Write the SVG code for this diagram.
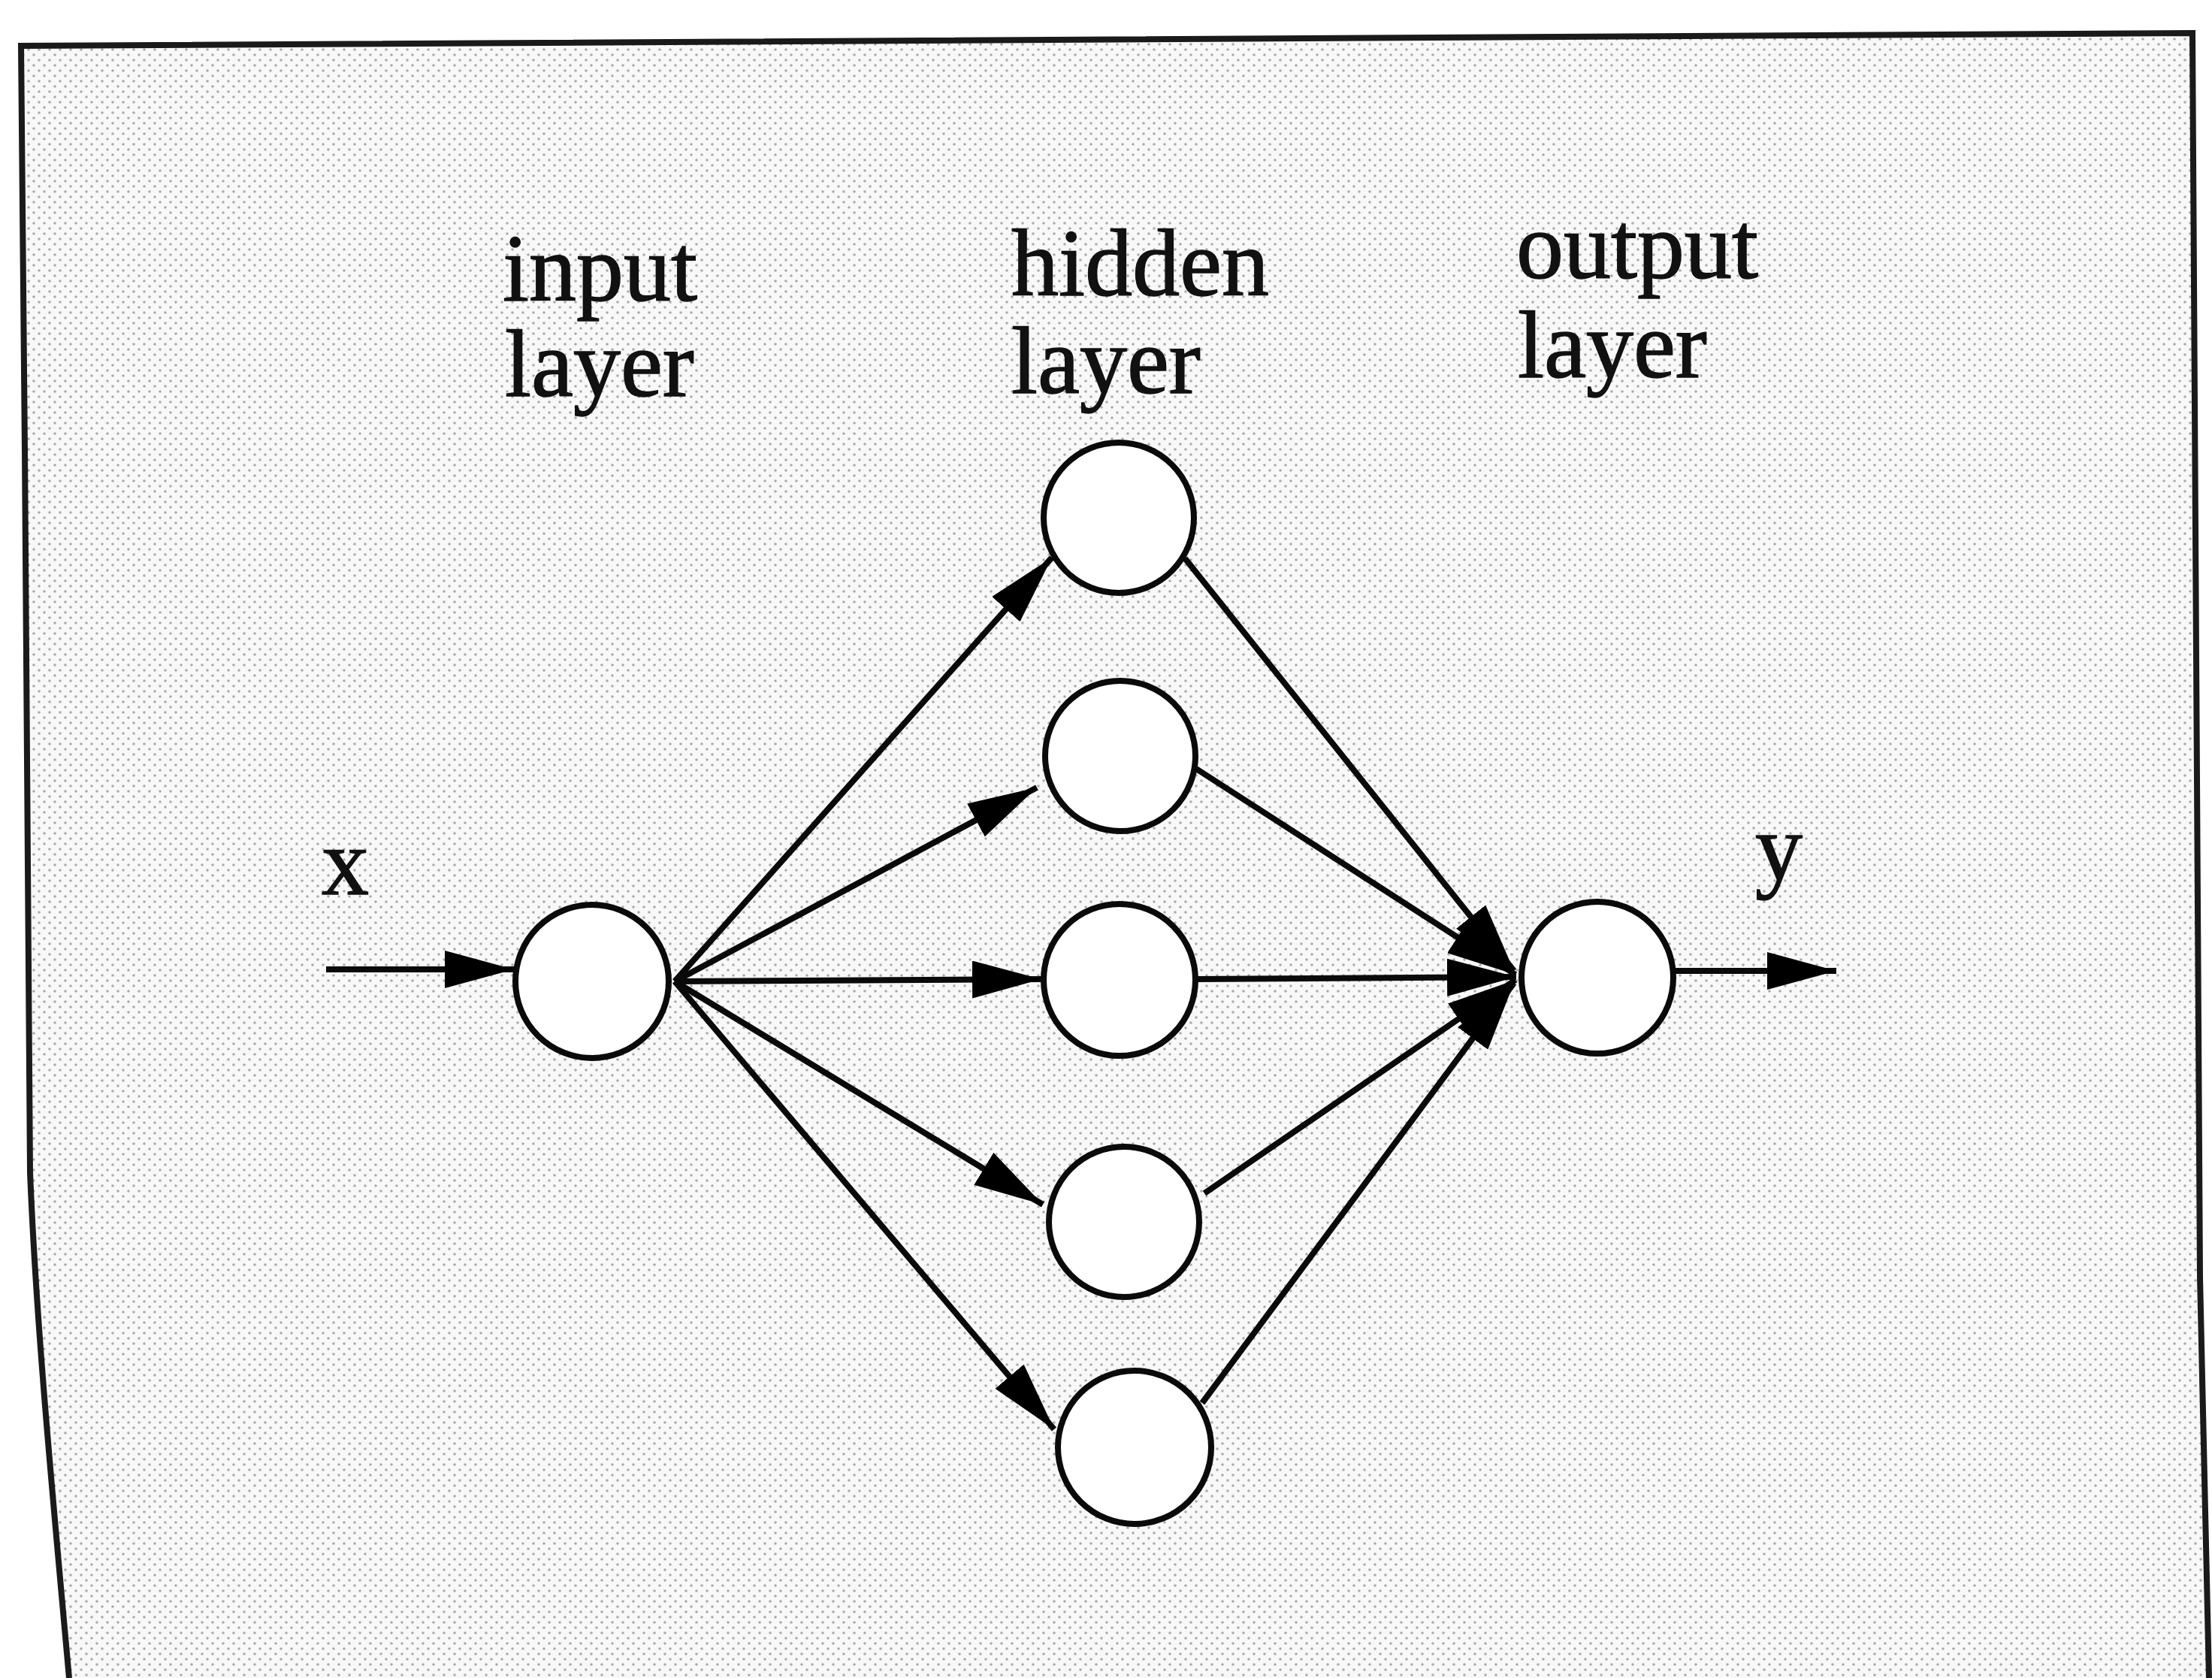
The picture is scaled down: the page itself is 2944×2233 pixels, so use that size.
<svg xmlns="http://www.w3.org/2000/svg" width="2944" height="2233" viewBox="0 0 2944 2233">
  <defs>
    <pattern id="halftone" x="0" y="0" width="14" height="14" patternUnits="userSpaceOnUse">
      <rect width="14" height="14" fill="#f8f8f8"/>
      <circle cx="3" cy="3" r="1.8" fill="#ababab"/>
      <circle cx="10" cy="10" r="1.8" fill="#ababab"/>
    </pattern>
    <marker id="arrow" viewBox="0 0 92 50" refX="92" refY="25" markerWidth="92" markerHeight="50" markerUnits="userSpaceOnUse" orient="auto">
      <path d="M0,0 L92,25 L0,50 Z" fill="#000"/>
    </marker>
  </defs>
  <style>
    .node { fill: #ffffff; stroke: #0a0a0a; stroke-width: 8; }
    .edge { fill: none; stroke: #0a0a0a; stroke-width: 8; marker-end: url(#arrow); }
    .label { font-family: "Liberation Serif", "Times New Roman", serif; font-size: 126px; fill: #111; stroke: #111; stroke-width: 1.5; }
  </style>

  <rect width="2944" height="2233" fill="#ffffff"/>

  <g id="frame">
    <path d="M28,61 L2918,44 L2928,1700 L2940,2233 L92,2233 C70,1990 48,1760 40,1560 L33,600 Z" fill="url(#halftone)" stroke="none"/>
    <path d="M92,2233 C70,1990 48,1760 40,1560 L33,600 L28,61 L2918,44 L2928,1700 L2940,2233" fill="none" stroke="#1a1a1a" stroke-width="8" stroke-linejoin="miter"/>
  </g>

  <g id="labels">
    <text class="label" x="669" y="400">input</text>
    <text class="label" x="672" y="527">layer</text>
    <text class="label" x="1346" y="393">hidden</text>
    <text class="label" x="1346" y="523">layer</text>
    <text class="label" x="2018" y="370">output</text>
    <text class="label" x="2020" y="502">layer</text>
    <text class="label" x="428" y="1190">x</text>
    <text class="label" x="2336" y="1171">y</text>
  </g>

  <g id="connectors">
    <line class="edge" x1="434" y1="1290" x2="684" y2="1290"/>
    <line class="edge" x1="898" y1="1306" x2="1400" y2="742"/>
    <line class="edge" x1="898" y1="1306" x2="1380" y2="1048"/>
    <line class="edge" x1="898" y1="1306" x2="1386" y2="1303"/>
    <line class="edge" x1="898" y1="1306" x2="1388" y2="1603"/>
    <line class="edge" x1="898" y1="1306" x2="1403" y2="1902"/>
    <line class="edge" x1="1577" y1="743" x2="2015" y2="1292"/>
    <line class="edge" x1="1592" y1="1023" x2="2017" y2="1297"/>
    <line class="edge" x1="1592" y1="1303" x2="2018" y2="1300"/>
    <line class="edge" x1="1603" y1="1588" x2="2017" y2="1304"/>
    <line class="edge" x1="1600" y1="1867" x2="2015" y2="1308"/>
    <line class="edge" x1="2229" y1="1292" x2="2444" y2="1292"/>
  </g>

  <g id="node-input"><circle class="node" cx="788" cy="1306" r="102"/></g>
  <g id="node-hidden-1"><circle class="node" cx="1489" cy="689" r="100"/></g>
  <g id="node-hidden-2"><circle class="node" cx="1491" cy="1006" r="100"/></g>
  <g id="node-hidden-3"><circle class="node" cx="1490" cy="1304" r="101"/></g>
  <g id="node-hidden-4"><circle class="node" cx="1496" cy="1626" r="100"/></g>
  <g id="node-hidden-5"><circle class="node" cx="1510" cy="1926" r="102"/></g>
  <g id="node-output"><circle class="node" cx="2126" cy="1301" r="101"/></g>
</svg>
